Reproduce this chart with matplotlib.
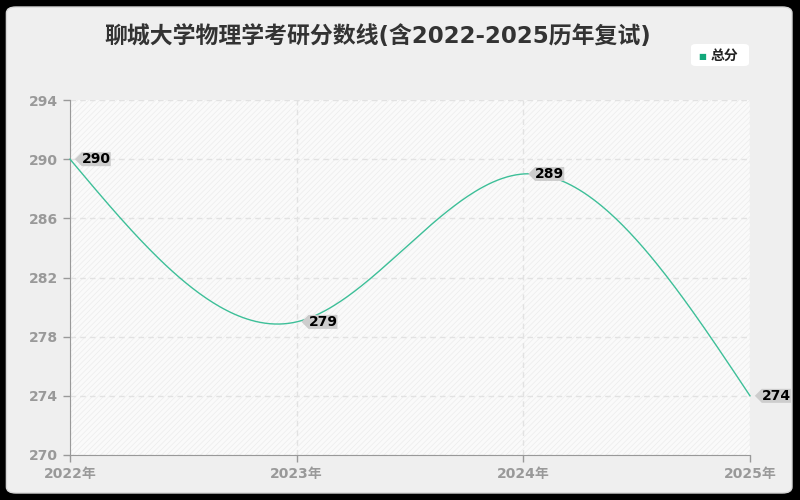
import numpy as np
import matplotlib.pyplot as plt
from matplotlib.path import Path
from matplotlib.patches import FancyBboxPatch

plt.rcParams['font.family'] = ['DejaVu Sans', 'Noto Sans CJK SC']
plt.rcParams['hatch.linewidth'] = 0.5

years = [2022, 2023, 2024, 2025]
year_labels = ['2022年', '2023年', '2024年', '2025年']
scores = [290, 279, 289, 274]
yticks = [270, 274, 278, 282, 286, 290, 294]
title = '聊城大学物理学考研分数线(含2022-2025历年复试)'
series_name = '总分'

line_color = '#3dbf98'
grid_color = '#e2e2e2'
tick_color = '#999999'


def natural_spline(xs, ys, num=300):
    # natural cubic spline drawn through the data points
    xs = np.asarray(xs, float)
    ys = np.asarray(ys, float)
    n = len(xs)
    h = np.diff(xs)
    A = np.zeros((n, n))
    b = np.zeros(n)
    A[0, 0] = A[-1, -1] = 1
    for i in range(1, n - 1):
        A[i, i - 1] = h[i - 1]
        A[i, i] = 2 * (h[i - 1] + h[i])
        A[i, i + 1] = h[i]
        b[i] = 6 * ((ys[i + 1] - ys[i]) / h[i] - (ys[i] - ys[i - 1]) / h[i - 1])
    M = np.linalg.solve(A, b)
    xx = np.linspace(xs[0], xs[-1], num)
    yy = np.empty_like(xx)
    for k, x in enumerate(xx):
        i = min(np.searchsorted(xs, x, side='right') - 1, n - 2)
        t0 = xs[i + 1] - x
        t1 = x - xs[i]
        yy[k] = (M[i] * t0 ** 3 + M[i + 1] * t1 ** 3) / (6 * h[i]) \
            + (ys[i] / h[i] - M[i] * h[i] / 6) * t0 \
            + (ys[i + 1] / h[i] - M[i + 1] * h[i] / 6) * t1
    return xx, yy


fig = plt.figure(figsize=(8, 5), dpi=100, facecolor='black')
panel = FancyBboxPatch((0.008, 0.014), 0.982, 0.972,
                       boxstyle='round,pad=0,rounding_size=0.012',
                       transform=fig.transFigure, facecolor='#efefef',
                       edgecolor='#d8d8d8', linewidth=1, zorder=-10)
fig.patches.append(panel)

ax = fig.add_axes([70 / 800, 45 / 500, 680 / 800, 355 / 500])
ax.set_facecolor('#fafafa')
ax.patch.set_hatch('//////')
ax.patch.set_edgecolor('#ececec')
ax.patch.set_linewidth(0)

ax.set_xlim(2022, 2025)
ax.set_ylim(270, 294)

xx, yy = natural_spline(years, scores)
ax.plot(xx, yy, color=line_color, linewidth=1, zorder=3, clip_on=False)


def tag_box(x0, y0, width, height, mutation_size):
    tip = height / 2
    verts = [(x0, y0), (x0 + width, y0), (x0 + width, y0 + height),
             (x0, y0 + height), (x0 - tip, y0 + height / 2), (x0, y0)]
    codes = [Path.MOVETO] + [Path.LINETO] * 4 + [Path.CLOSEPOLY]
    return Path(verts, codes)


for x, y in zip(years, scores):
    ax.annotate(str(y), (x, y), xytext=(8.5, 0), textcoords='offset points',
                ha='left', va='center', fontsize=10, color='black',
                fontweight='bold',
                bbox=dict(boxstyle=tag_box, facecolor='#cdcdcd',
                          edgecolor='none', pad=0.25),
                zorder=5, annotation_clip=False)

ax.set_xticks(years)
ax.set_xticklabels(year_labels)
ax.set_yticks(yticks)
ax.grid(True, color=grid_color, linestyle=(0, (4, 3)), linewidth=1)
ax.set_axisbelow(True)
ax.tick_params(colors=tick_color, labelsize=10, length=5, width=1)
for lbl in ax.get_xticklabels() + ax.get_yticklabels():
    lbl.set_color('#999999')
    lbl.set_fontweight('bold')
for side in ['top', 'right']:
    ax.spines[side].set_visible(False)
for side in ['left', 'bottom']:
    ax.spines[side].set_color(tick_color)

fig.text(378 / 800, 1 - 37 / 500, title, ha='center', va='center',
         fontsize=16.5, fontweight='bold', color='#333333')

leg_box = FancyBboxPatch((691 / 800, 1 - 66 / 500), 58 / 800, 22 / 500,
                         boxstyle='round,pad=0,rounding_size=0.006',
                         transform=fig.transFigure, facecolor='white',
                         edgecolor='none')
fig.patches.append(leg_box)
fig.text(702 / 800, 1 - 56 / 500, '■', ha='center', va='center',
         fontsize=6, color='#12a87a')
fig.text(711 / 800, 1 - 56 / 500, series_name, ha='left', va='center',
         fontsize=10, color='#222222', fontweight='bold')

fig.savefig('out.png', dpi=100, facecolor=fig.get_facecolor())
